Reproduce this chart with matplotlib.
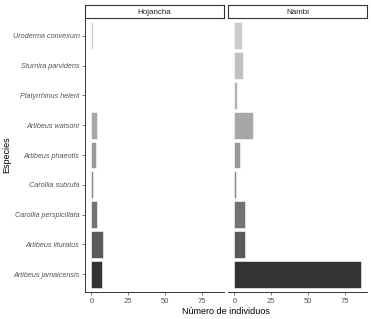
import matplotlib.pyplot as plt
import numpy as np

plt.rcParams['font.family'] = ['Liberation Sans', 'DejaVu Sans']

# species from top to bottom
species = ['Uroderma convexum', 'Sturnira parvidens', 'Platyrrhinus helerii',
           'Artibeus watsoni', 'Artibeus phaeotis', 'Carollia subrufa',
           'Carollia perspicillata', 'Artibeus lituratus', 'Artibeus jamaicensis']
sites = ['Hojancha', 'Nambi']
hojancha = [1, 0, 0, 4, 3, 1, 4, 8, 7]
nambi = [5, 6, 2, 13, 4, 1, 7, 7, 86]
xticks = [0, 25, 50, 75]

# grey fill scale, light (top) to dark (bottom)
n = len(species)
g = (0.8**2.2 + (0.2**2.2 - 0.8**2.2) * np.linspace(0, 1, n))**(1 / 2.2)
fills = [(v, v, v) for v in g]

W, H = 372, 319
fig = plt.figure(figsize=(W / 100, H / 100), dpi=100)

def fx(px):
    return px / W

def fy(px):
    return 1 - px / H

panels = [(85, 224), (228, 367)]
top, bottom = 18, 292
ypos = np.arange(n)

for i, (site, vals) in enumerate(zip(sites, [hojancha, nambi])):
    x0, x1 = panels[i]
    ax = fig.add_axes([fx(x0), fy(bottom), fx(x1 - x0), fy(top) - fy(bottom)])
    ax.barh(ypos, vals, height=0.9, color=fills, edgecolor='white', linewidth=0.4)
    ax.set_xlim(-4.3, 90.3)
    ax.set_ylim(n - 0.4, -0.6)
    ax.set_xticks(xticks)
    ax.tick_params(axis='x', labelsize=5.5, colors='#444444', length=2, width=0.5, pad=2,
                   labelcolor='#555555')
    for s in ['top', 'right']:
        ax.spines[s].set_visible(False)
    ax.spines['bottom'].set_linewidth(0.7)
    ax.spines['bottom'].set_color('#333333')
    if i == 0:
        ax.set_yticks(ypos)
        ax.set_yticklabels(species, fontstyle='italic', fontsize=5.2, color='#555555')
        ax.tick_params(axis='y', length=2, width=0.5, pad=2, colors='#444444',
                       labelcolor='#555555')
        ax.spines['left'].set_linewidth(0.7)
        ax.spines['left'].set_color('#333333')
    else:
        ax.set_yticks([])
        ax.spines['left'].set_visible(False)

    # facet strip
    sax = fig.add_axes([fx(x0), fy(top), fx(x1 - x0), fy(5) - fy(top)])
    sax.set_xticks([])
    sax.set_yticks([])
    for s in sax.spines.values():
        s.set_linewidth(0.8)
        s.set_color('#333333')
    sax.text(0.5, 0.45, site, ha='center', va='center', fontsize=5.8, color='#222222',
             transform=sax.transAxes)

fig.text(fx(226), fy(311), 'Número de individuos', ha='center', va='center', fontsize=6.5)
fig.text(fx(7), fy(155), 'Especies', ha='center', va='center', fontsize=6.5, rotation=90)

fig.savefig('out.png', dpi=100)
